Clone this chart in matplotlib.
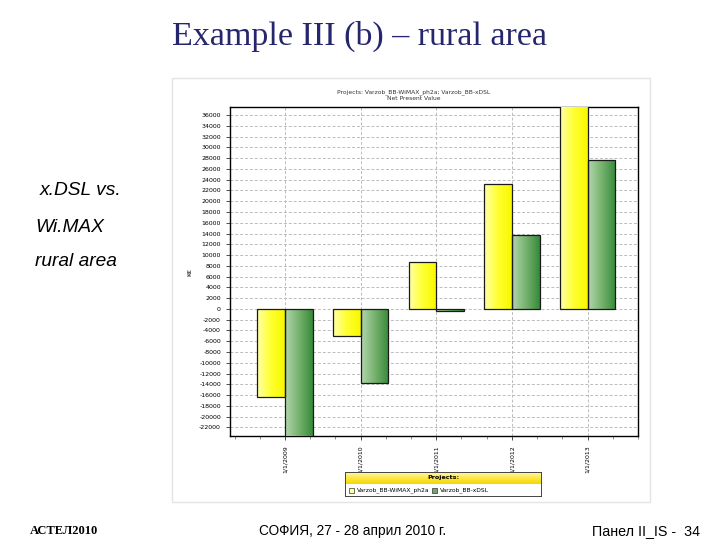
import numpy as np
import matplotlib
matplotlib.use('Agg')
import matplotlib.pyplot as plt
from matplotlib.colors import LinearSegmentedColormap
from matplotlib.patches import Rectangle

# data (K EUR)
years = ['1/1/2009', '1/1/2010', '1/1/2011', '1/1/2012', '1/1/2013']
wimax = [-16300, -5000, 8700, 23200, 39000]
xdsl = [-25000, -13800, -400, 13700, 27600]
series_names = ['Varzob_BB-WiMAX_ph2a', 'Varzob_BB-xDSL']
yticks = list(range(-22000, 36001, 2000))

fig = plt.figure(figsize=(7.2, 5.4), dpi=100)
fig.patch.set_facecolor('white')

# slide texts
fig.text(0.5, 0.933, 'Example III (b) \u2013 rural area', ha='center', va='center',
         family='Liberation Serif', fontsize=24.5, color='#26266e')
fig.text(0.055, 0.648, 'x.DSL vs.', ha='left', va='center', family='Liberation Sans',
         fontsize=13.8, style='italic', color='black')
fig.text(0.049, 0.578, 'Wi.MAX', ha='left', va='center', family='Liberation Sans',
         fontsize=13.8, style='italic', color='black')
fig.text(0.049, 0.515, 'rural area', ha='left', va='center', family='Liberation Sans',
         fontsize=13.8, style='italic', color='black')

fig.text(0.042, 0.016, 'АСТЕЛ2010', ha='left', va='center', family='Liberation Serif',
         fontsize=9, weight='bold')
fig.text(0.489, 0.016, 'СОФИЯ, 27 - 28 април 2010 г.', ha='center', va='center',
         family='Liberation Sans', fontsize=9.8)
fig.text(0.972, 0.016, 'Панел II_IS -  34', ha='right', va='center',
         family='Liberation Sans', fontsize=10.3)

# chart panel frame
fig.patches.append(Rectangle((172 / 720, 1 - 502 / 540), 478 / 720, 424 / 540,
                             transform=fig.transFigure, facecolor='white',
                             edgecolor='#e4e4e4', linewidth=1, zorder=-5))
fig.text(0.574, 0.830, 'Projects: ' + series_names[0] + '; ' + series_names[1],
         ha='center', va='center', fontsize=4.3, color='#333333')
fig.text(0.574, 0.817, 'Net Present Value', ha='center', va='center',
         fontsize=4.3, color='#333333')

ax = fig.add_axes([230 / 720, 1 - 436 / 540, 408 / 720, 329 / 540])
ylo, yhi = -23600, 37500
x = np.arange(len(years))
w = 0.366
b1 = ax.bar(x - w / 2, wimax, w, edgecolor='#1a1a1a', linewidth=0.9, zorder=3)
b2 = ax.bar(x + w / 2, xdsl, w, edgecolor='#1a1a1a', linewidth=0.9, zorder=3)

# horizontal gradient fill for the bars (kept inside the axes)
grad = np.linspace(0, 1, 64).reshape(1, -1)
cm_y = LinearSegmentedColormap.from_list('yel', ['#ffffa8', '#ffff30', '#f8f800'])
cm_g = LinearSegmentedColormap.from_list('grn', ['#b2d6ac', '#76b26e', '#378a3a'])
for bars, cm in [(b1, cm_y), (b2, cm_g)]:
    for bar in bars:
        bx, by = bar.get_x(), bar.get_y()
        bw, bh = bar.get_width(), bar.get_height()
        y0 = max(min(by, by + bh), ylo)
        y1 = min(max(by, by + bh), yhi)
        im = ax.imshow(grad, extent=[bx, bx + bw, y0, y1],
                       aspect='auto', cmap=cm, zorder=2.9, interpolation='bilinear')
        im.set_clip_path(bar)
        bar.set_facecolor('none')

ax.set_xlim(-0.727, 4.665)
ax.set_ylim(ylo, yhi)
ax.set_yticks(yticks)
ax.set_yticklabels([str(v) for v in yticks])
ax.set_xticks(x)
ax.set_xticklabels(years, rotation=90)
ax.set_xticks(np.arange(-2 / 3, 4.67, 1 / 3), minor=True)
ax.tick_params(axis='both', which='major', labelsize=4.5, length=3, width=0.6,
               colors='#333333', labelcolor='black')
ax.tick_params(axis='x', which='minor', length=2, width=0.5, colors='#666666')
ax.grid(True, which='major', linestyle=(0, (3, 2)), color='#bcbcbc', linewidth=0.7, zorder=0)
ax.set_axisbelow(True)
for s in ax.spines.values():
    s.set_color('black')
    s.set_linewidth(1)
ax.set_ylabel('K€', fontsize=4.5, labelpad=5)

# legend box
lax = fig.add_axes([345 / 720, 1 - 496 / 540, 196 / 720, 24 / 540])
vgrad = np.linspace(0, 1, 32).reshape(-1, 1)
cm_h = LinearSegmentedColormap.from_list('hdr', ['#fff9c8', '#ffe94a', '#f4d800'])
lax.imshow(vgrad, extent=[0, 196, 12, 24], aspect='auto', cmap=cm_h, origin='upper')
lax.text(98, 18, 'Projects:', ha='center', va='center', fontsize=4.6, weight='bold')
lax.add_patch(Rectangle((4, 3.5), 5, 5, facecolor='#ffffa8', edgecolor='#333333', linewidth=0.5))
lax.text(12, 6, series_names[0], ha='left', va='center', fontsize=4.3)
lax.add_patch(Rectangle((87, 3.5), 5, 5, facecolor='#6fa868', edgecolor='#333333', linewidth=0.5))
lax.text(95, 6, series_names[1], ha='left', va='center', fontsize=4.3)
lax.set_xlim(0, 196)
lax.set_ylim(0, 24)
lax.set_xticks([])
lax.set_yticks([])
for s in lax.spines.values():
    s.set_color('#444444')
    s.set_linewidth(0.7)

fig.savefig('out.png', dpi=100)
